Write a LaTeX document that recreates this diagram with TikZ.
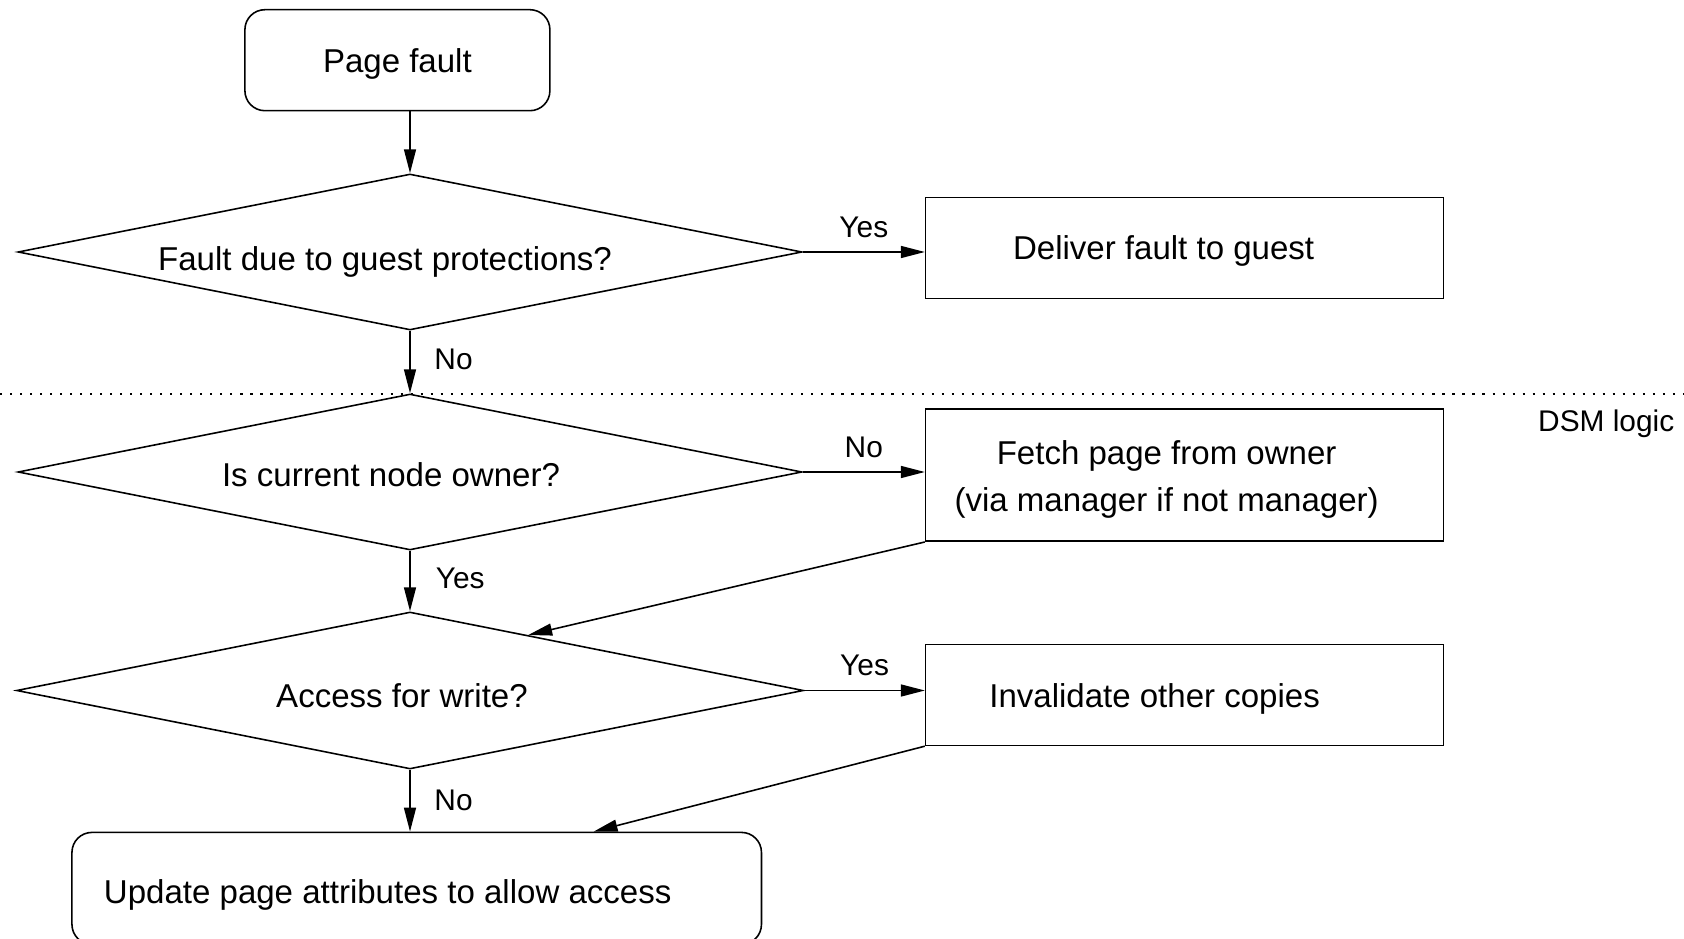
\documentclass[tikz,border=0pt]{standalone}
\usepackage{fontspec}
\setmainfont{Liberation Sans}
\usepackage{tikz}
\usetikzlibrary{arrows.meta,shapes.geometric,calc}

\begin{document}
\begin{tikzpicture}[
    font=\fontsize{9.4}{13.4}\selectfont,
    trait/.style={line width=0.45pt},
    boite/.style={draw,trait,rectangle,minimum width=5.18cm,minimum height=1.01cm,inner sep=0pt},
    arrondi/.style={draw,trait,rectangle,rounded corners=0.2cm,inner sep=0pt},
    losange/.style={draw,trait,diamond,aspect=5,inner sep=0pt,
                    minimum width=7.84cm,minimum height=1.56cm},
    fleche/.style={trait,-{Triangle[length=6.8pt,width=3.4pt]}},
    etiq/.style={font=\fontsize{8.5}{10}\selectfont}]
    % echelle unique : x_cm = px/100 ; y_cm = -py/100
    \useasboundingbox (0,0) rectangle (16.84,-9.39);
    \node[arrondi,minimum width=3.05cm,minimum height=1.01cm,
      label={[yshift=-0.04cm]center:Page fault}] (faute) at (3.974,-0.602) {};
    \node[losange,label={[xshift=-0.25cm,yshift=-0.1cm]center:Fault due to guest protections?}]
      (q1) at (4.10,-2.52) {};
    \node[boite,label={[xshift=-0.21cm,yshift=-0.03cm]center:Deliver fault to guest}]
      (livrer) at (11.846,-2.481) {};
    \node[losange,label={[xshift=-0.19cm,yshift=-0.03cm]center:Is current node owner?}]
      (q2) at (4.10,-4.72) {};
    \node[boite,minimum height=1.32cm,
      label={[align=center,xshift=-0.18cm,yshift=-0.04cm]center:Fetch page from owner\\(via manager if not manager)}]
      (chercher) at (11.846,-4.752) {};
    \node[losange,minimum width=7.87cm,minimum height=1.57cm,
      label={[xshift=-0.08cm,yshift=-0.05cm]center:Access for write?}] (q3) at (4.10,-6.905) {};
    \node[boite,label={[xshift=-0.30cm,yshift=-0.04cm]center:Invalidate other copies}]
      (invalider) at (11.846,-6.949) {};
    \node[arrondi,minimum width=6.895cm,minimum height=1.12cm,
      label={[xshift=-0.29cm,yshift=-0.07cm]center:Update page attributes to allow access}]
      (maj) at (4.167,-8.884) {};
    % separation
    \coordinate (sepG) at (0,-3.94);
    \coordinate (sepD) at (16.84,-3.94);
    \draw[trait,dash pattern=on 0.6pt off 2.25pt] (sepG) -- (sepD);
    \node[etiq,anchor=east,inner sep=0pt] (dsm) at (16.75,-4.24) {DSM logic};
    % fleches
    \draw[fleche] (faute.south -| q1.north) -- (q1.north);
    \draw[fleche] (q1.east) -- (q1.east -| livrer.west) node[etiq,midway,above=0.6pt]{Yes};
    \draw[fleche] (q1.south) -- (q2.north) node[etiq,midway,right=3.4pt,yshift=0.03cm]{No};
    \draw[fleche] (q2.east) -- (q2.east -| chercher.west) node[etiq,midway,above=0.6pt]{No};
    \draw[fleche] (q2.south) -- (q3.north) node[etiq,midway,right=3.8pt,yshift=0.03cm]{Yes};
    \draw[fleche] (chercher.south west) -- ($(q3.north)!0.3!(q3.east)$);
    \draw[fleche] (q3.east) -- (q3.east -| invalider.west) node[etiq,midway,above=0.6pt]{Yes};
    \draw[fleche] (q3.south) -- (q3.south |- maj.north) node[etiq,midway,right=3.4pt]{No};
    \draw[fleche] (invalider.south west) -- ($(maj.north west)!0.756!(maj.north east)$);
\end{tikzpicture}
\end{document}
